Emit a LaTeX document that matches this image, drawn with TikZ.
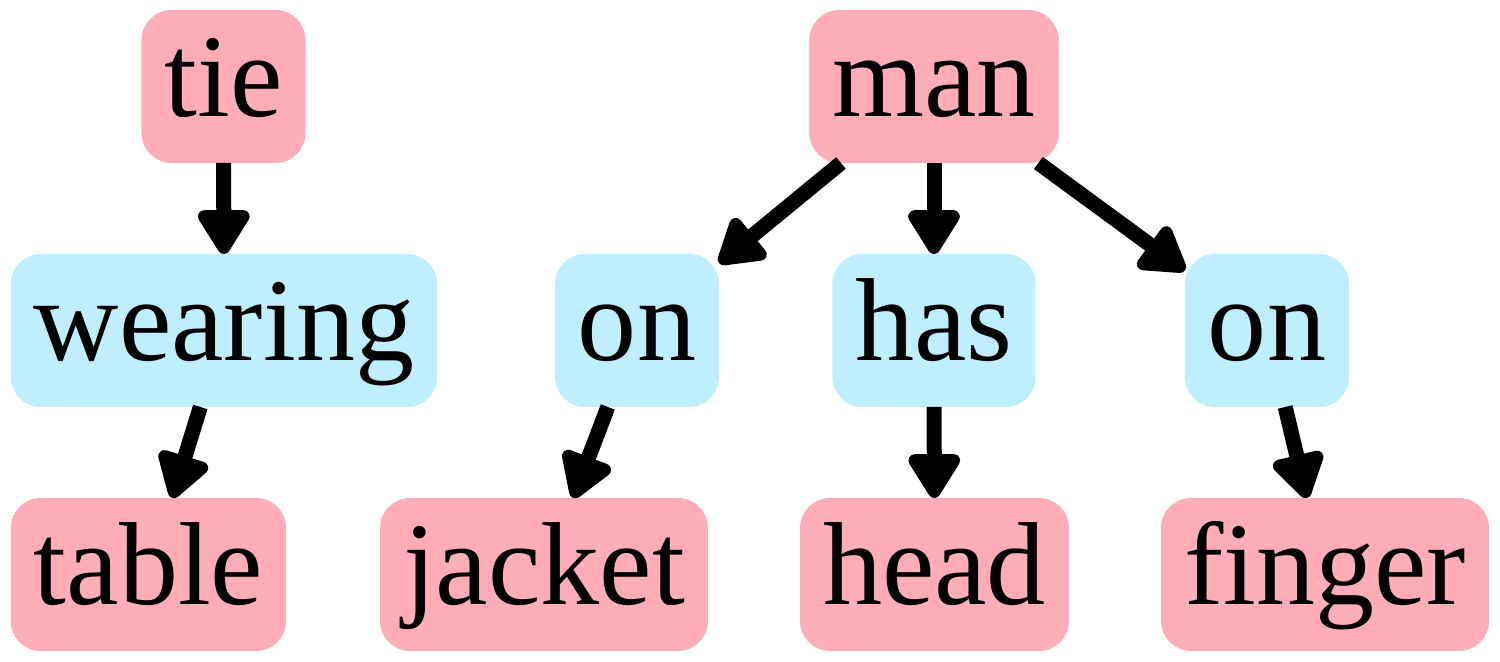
\documentclass[tikz,border=0pt]{standalone}
\usepackage{fontspec}
\setmainfont{Liberation Serif}
\usetikzlibrary{arrows.meta}
\definecolor{objpink}{HTML}{FFAEB9}
\definecolor{relblue}{HTML}{BFEFFF}

\begin{document}
\begin{tikzpicture}[
 obj/.style={fill=objpink,rounded corners=0.3cm,minimum height=1.53cm,inner xsep=0.23cm,inner ysep=0cm,outer sep=0pt,text height=0.91cm,text depth=0.3cm,font=\fontsize{33.6}{40}\selectfont},
 rel/.style={obj,fill=relblue},
 link/.style={line width=0.15cm,-{Triangle[length=0.5cm,width=0.58cm,round]}}]
 \useasboundingbox (0,0) rectangle (15,6.62);
 % top row
 \node[obj] (tie) at (2.235,5.755) {tie};
 \node[obj] (man) at (9.34,5.755) {man};
 % middle row
 \node[rel] (wearing) at (2.24,3.315) {wearing};
 \node[rel] (on1) at (6.37,3.315) {on};
 \node[rel] (has) at (9.34,3.315) {has};
 \node[rel] (on2) at (12.67,3.315) {on};
 % bottom row
 \node[obj] (table) at (1.485,0.875) {table};
 \node[obj] (jacket) at (5.44,0.875) {jacket};
 \node[obj] (head) at (9.345,0.875) {head};
 \node[obj] (finger) at (13.25,0.875) {finger};
 % edges
 \draw[link] (tie) -- (wearing);
 \draw[link] (wearing) -- (table);
 \draw[link] (man) -- (on1);
 \draw[link] (man) -- (has);
 \draw[link] (man) -- (on2);
 \draw[link] (on1) -- (jacket);
 \draw[link] (has) -- (head);
 \draw[link] (on2) -- (finger);
\end{tikzpicture}
\end{document}
